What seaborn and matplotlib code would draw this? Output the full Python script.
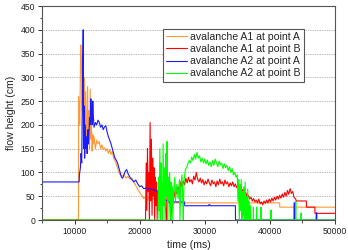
import matplotlib
matplotlib.use("Agg")
import matplotlib.pyplot as plt
import pandas as pd
import seaborn as sns
from matplotlib.ticker import MultipleLocator

# avalanche A1 at point A (orange)
a1a_time = [5000, 10600, 10620, 10800, 10950, 11050, 11200, 11300, 11400, 11500, 11600, 11700, 11800,
            11900, 12000, 12100, 12200, 12300, 12400, 12500, 12600, 12700, 12800, 12900, 13000,
            13200, 13400, 13600, 13800, 14000, 14200, 14400, 14600, 14800, 15000, 15200, 15400,
            15600, 15800, 16000, 16200, 16400, 16600, 16800, 17000, 17300, 17600, 17900, 18200,
            18500, 18800, 19100, 19400, 19700, 20000, 20300, 20600, 20900, 21200, 21500, 21800,
            22100, 22400, 22700, 23000, 23500, 41500, 41520, 50000]
a1a_height = [0, 0, 260, 200, 368, 330, 230, 250, 190, 300, 150, 270, 140,
              200, 280, 160, 230, 150, 275, 170, 200, 145, 180, 160, 175,
              150, 168, 160, 165, 150, 158, 148, 152, 145, 150, 140, 148,
              138, 144, 130, 125, 118, 110, 100, 95, 92, 95, 88, 92,
              86, 88, 80, 72, 65, 58, 52, 45, 50, 42, 48, 44,
              46, 40, 42, 38, 36, 36, 27, 27]

# avalanche A1 at point B (red)
a1b_time = [5000, 20900, 21000, 21100, 21200, 21300, 21400, 21500, 21600, 21700, 21800, 21900,
            22000, 22100, 22200, 22300, 22400, 22500, 22600, 22700, 22800, 22900, 23000, 23100,
            23200, 23300, 23500, 23700, 23900, 24100, 24200, 24400, 24600, 24800, 24900, 25100,
            25300, 25500, 25700, 25900, 26100, 26300, 26500, 26700, 26900, 27100, 27300, 27500,
            27700, 27900, 28100, 28300, 28500, 28700, 28900, 29100, 29300, 29500, 29700, 29900,
            30100, 30300, 30500, 30700, 30900, 31100, 31300, 31500, 31700, 31900, 32100, 32300,
            32500, 32700, 32900, 33100, 33300, 33500, 33700, 33900, 34100, 34300, 34500, 34700,
            34900, 35100, 35300, 35500, 35700, 35900, 36100, 36300, 36500, 36700, 36900, 37100,
            37300, 37500, 37700, 37900, 38100, 38300, 38500, 38700, 38900, 39100, 39300, 39500,
            39700, 39900, 40100, 40300, 40500, 40700, 40900, 41100, 41300, 41500, 41700, 41900,
            42100, 42300, 42500, 42700, 42900, 43100, 43300, 43500, 43700, 43900, 44100, 45600,
            45620, 46900, 46920, 50000]
a1b_height = [0, 0, 120, 20, 150, 60, 100, 0, 205, 40, 170, 10,
              130, 50, 110, 0, 90, 30, 80, 0, 60, 20, 70, 40,
              0, 55, 45, 60, 35, 0, 50, 60, 45, 0, 55, 40,
              50, 65, 55, 70, 60, 80, 70, 82, 74, 88, 78, 90,
              80, 85, 76, 92, 84, 100, 86, 80, 88, 78, 85, 74,
              82, 76, 86, 78, 72, 84, 76, 80, 70, 82, 74, 86,
              76, 80, 72, 84, 76, 80, 70, 78, 72, 80, 70, 76,
              68, 74, 66, 72, 60, 65, 55, 58, 48, 52, 44, 48,
              40, 45, 38, 42, 36, 44, 34, 38, 32, 40, 35, 42,
              36, 44, 38, 46, 40, 48, 42, 50, 44, 52, 46, 55,
              48, 58, 50, 62, 54, 66, 56, 60, 48, 45, 40, 40,
              27, 27, 14, 14]

# avalanche A2 at point A (blue)
a2a_time = [5000, 10700, 10750, 10900, 11000, 11100, 11200, 11330, 11380, 11450, 11550, 11650,
            11750, 11850, 11950, 12050, 12150, 12300, 12400, 12500, 12600, 12700, 12800, 12900,
            13000, 13200, 13400, 13600, 13800, 14000, 14200, 14400, 14600, 14800, 15000, 15200,
            15400, 15600, 15800, 16000, 16200, 16400, 16600, 16800, 17000, 17200, 17400, 17600,
            17800, 18000, 18200, 18500, 18800, 19100, 19400, 19700, 20000, 20300, 20600, 21000,
            21500, 22000, 22500, 23000, 23500, 24000, 24500, 26900, 26920, 30600, 30620, 30800,
            30820, 34700, 34720, 43700, 43720, 43800, 43820, 47100, 47120, 47200, 47220, 50000]
a2a_height = [80, 80, 95, 110, 140, 120, 270, 400, 150, 240, 130, 200,
              150, 175, 140, 190, 160, 215, 200, 255, 230, 200, 250, 215,
              195, 205, 200, 210, 205, 195, 200, 190, 196, 198, 185, 175,
              168, 160, 150, 140, 130, 126, 120, 110, 100, 90, 88, 96,
              103, 106, 98, 90, 85, 80, 84, 76, 70, 72, 66, 67,
              65, 64, 62, 60, 48, 42, 38, 38, 30, 30, 32, 32,
              30, 30, 0, 0, 36, 36, 0, 0, 15, 15, 0, 0]

# avalanche A2 at point B (green)
a2b_time = [5000, 22800, 22900, 23000, 23100, 23200, 23300, 23400, 23500, 23600, 23700, 23800,
            23900, 24000, 24100, 24200, 24300, 24400, 24500, 24600, 24700, 24800, 24900, 25000,
            25100, 25200, 25400, 25500, 25700, 25900, 26100, 26200, 26300, 26500, 26600, 26700,
            26800, 27000, 27200, 27400, 27600, 27800, 28000, 28200, 28400, 28600, 28800, 29000,
            29200, 29400, 29600, 29800, 30000, 30200, 30400, 30600, 30800, 31000, 31200, 31400,
            31600, 31800, 32000, 32200, 32400, 32600, 32800, 33000, 33200, 33400, 33600, 33800,
            34000, 34200, 34400, 34600, 34800, 35000, 35100, 35200, 35300, 35400, 35500, 35600,
            35700, 35800, 35900, 36000, 36100, 36200, 36300, 36400, 36500, 36600, 36700, 36800,
            36900, 37000, 37100, 37450, 37470, 37490, 37950, 37970, 37990, 38600, 38620, 38640,
            40150, 40170, 40190, 43950, 43970, 43990, 44780, 44800, 44820, 50000]
a2b_height = [0, 0, 90, 20, 150, 0, 120, 60, 0, 160, 30, 110,
              0, 140, 50, 165, 0, 90, 40, 100, 0, 80, 30, 70,
              0, 60, 90, 40, 75, 45, 85, 0, 70, 95, 50, 0,
              80, 105, 110, 118, 125, 120, 132, 125, 138, 128, 142, 130,
              135, 122, 130, 120, 128, 118, 126, 115, 122, 112, 125, 115,
              128, 120, 112, 124, 116, 120, 108, 118, 110, 115, 104, 112,
              100, 108, 95, 100, 90, 95, 40, 85, 0, 75, 20, 85,
              0, 60, 10, 70, 0, 80, 0, 50, 0, 65, 0, 40,
              0, 30, 0, 0, 27, 0, 0, 27, 0, 0, 27, 0,
              0, 21, 0, 0, 40, 0, 0, 15, 0, 0]

labels = ["avalanche A1 at point A", "avalanche A1 at point B",
          "avalanche A2 at point A", "avalanche A2 at point B"]
colors = ["#FF9933", "#FF0000", "#1A1AFF", "#00FF00"]

series = [(a1a_time, a1a_height), (a1b_time, a1b_height),
          (a2a_time, a2a_height), (a2b_time, a2b_height)]
frames = []
for lab, (t, h) in zip(labels, series):
    d = pd.DataFrame({"time": t, "height": h})
    d["series"] = lab
    frames.append(d)
df = pd.concat(frames, ignore_index=True)

sns.set_style("white")
plt.rcParams["font.family"] = ["Liberation Sans", "DejaVu Sans"]

fig = plt.figure(figsize=(3.48, 2.5), dpi=100)
ax = fig.add_axes([42 / 348, 30 / 250, 293 / 348, 214 / 250])

sns.lineplot(data=df, x="time", y="height", hue="series", hue_order=labels,
             palette=dict(zip(labels, colors)), estimator=None, sort=False,
             units="series", linewidth=0.8, ax=ax)

ax.set_xlim(5000, 50000)
ax.set_ylim(0, 450)
ax.xaxis.set_major_locator(MultipleLocator(10000))
ax.xaxis.set_minor_locator(MultipleLocator(5000))
ax.yaxis.set_major_locator(MultipleLocator(50))
ax.yaxis.set_minor_locator(MultipleLocator(25))
ax.tick_params(which="both", direction="out", bottom=True, left=True,
               top=False, right=False, labelsize=6.2, pad=2, color="#333333",
               labelcolor="#222222")
ax.tick_params(which="major", length=3, width=0.7)
ax.tick_params(which="minor", length=1.8, width=0.6)

ax.yaxis.grid(True, which="major", linestyle=(0, (1, 1.5)), linewidth=0.5, color="#777777")
ax.set_axisbelow(True)
for s in ax.spines.values():
    s.set_color("#555555")
    s.set_linewidth(0.8)

ax.set_xlabel("time (ms)", fontsize=7.6, labelpad=3)
ax.set_ylabel("flow height (cm)", fontsize=7.6, labelpad=3)

handles, _ = ax.get_legend_handles_labels()
leg = ax.legend(handles=handles, labels=labels, loc="upper left",
                bbox_to_anchor=(0.413, 0.893), borderaxespad=0, fontsize=7.6,
                frameon=True, fancybox=False, framealpha=1, edgecolor="#555555",
                handlelength=2.0, handletextpad=0.3, labelspacing=0.2,
                borderpad=0.3)
leg.get_frame().set_linewidth(0.8)

fig.savefig("out.png", dpi=100)
